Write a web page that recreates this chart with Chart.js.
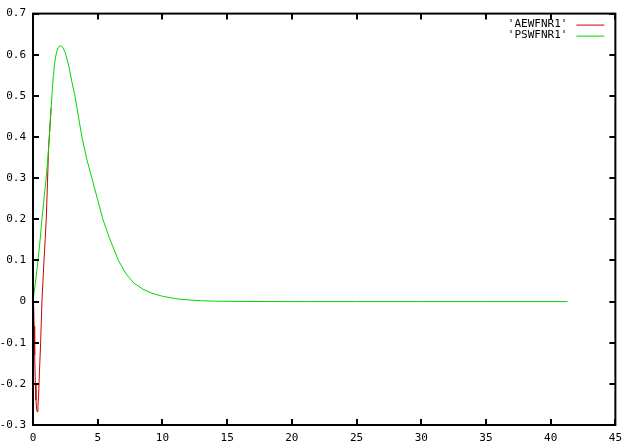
<!DOCTYPE html>
<html>
<head>
<meta charset="utf-8">
<script src="https://cdn.jsdelivr.net/npm/chart.js@4/dist/chart.umd.min.js"></script>
<style>
  html, body { margin: 0; padding: 0; background: #fff; }
  #wrap { width: 629px; height: 448px; }
</style>
</head>
<body>
<div id="wrap"><canvas id="c" width="629" height="448"></canvas></div>
<script>
// ---- data ----
const seriesNames = ["'AEWFNR1'", "'PSWFNR1'"];

// pseudo wavefunction (green)
const psX = [0, 0.2, 0.39, 0.55, 0.69, 0.85, 1.0, 1.1, 1.2, 1.3, 1.4, 1.48, 1.57, 1.66, 1.75, 1.85, 1.95, 2.05, 2.15, 2.3, 2.5, 2.8, 3.0, 3.24, 3.5, 3.78, 4.15, 4.55, 5.0, 5.4, 5.9, 6.6, 7.2, 7.8, 8.5, 9.2, 10.0, 11.0, 12.0, 13.0, 14.0, 16.0, 18.0, 21.0, 25.0, 30.0, 35.0, 41.3];
const psY = [0, 0.05, 0.1, 0.15, 0.2, 0.25, 0.295, 0.33, 0.37, 0.42, 0.47, 0.51, 0.548, 0.576, 0.596, 0.609, 0.617, 0.621, 0.622, 0.618, 0.605, 0.568, 0.535, 0.5, 0.452, 0.4, 0.347, 0.3, 0.247, 0.2, 0.155, 0.1, 0.067, 0.045, 0.03, 0.02, 0.013, 0.007, 0.004, 0.002, 0.001, 0.0003, 0.0001, 0, 0, 0, 0, 0];

// all-electron wavefunction (red): visible part; beyond it it lies under the green curve
const aeX = [0.05, 0.09, 0.13, 0.18, 0.23, 0.28, 0.33, 0.38, 0.43, 0.5, 0.59, 0.69, 0.77, 0.85, 0.94, 1.03, 1.12, 1.2, 1.3, 1.4];
const aeY = [-0.01, -0.06, -0.13, -0.2, -0.24, -0.262, -0.268, -0.255, -0.23, -0.17, -0.1, 0, 0.05, 0.1, 0.15, 0.205, 0.29, 0.37, 0.42, 0.47];

const xTicksMin = 0, xTicksMax = 45, xTickStep = 5;
const yTicksMin = -0.3, yTicksMax = 0.7, yTickStep = 0.1;

// ---- build datasets ----
const psData = psX.map((x, i) => ({ x: x, y: psY[i] }));
const aeData = aeX.map((x, i) => ({ x: x, y: aeY[i] }));

const FONT = { family: "'DejaVu Sans Mono', monospace", size: 11 };
const RED = 'rgb(205,0,0)';
const GREEN = 'rgb(0,215,0)';

const framePlugin = {
  id: 'frame',
  afterDraw(chart) {
    const ctx = chart.ctx, a = chart.chartArea;
    const xs = chart.scales.x, ys = chart.scales.y;
    ctx.save();
    ctx.strokeStyle = '#000';
    ctx.lineWidth = 2;
    ctx.strokeRect(a.left, a.top, a.right - a.left, a.bottom - a.top);
    const tl = 6;
    ctx.beginPath();
    xs.ticks.forEach(t => {
      const px = Math.round(xs.getPixelForValue(t.value));
      ctx.moveTo(px, a.bottom); ctx.lineTo(px, a.bottom - tl);
      ctx.moveTo(px, a.top); ctx.lineTo(px, a.top + tl);
    });
    ys.ticks.forEach(t => {
      const py = Math.round(ys.getPixelForValue(t.value));
      ctx.moveTo(a.left, py); ctx.lineTo(a.left + tl, py);
      ctx.moveTo(a.right, py); ctx.lineTo(a.right - tl, py);
    });
    ctx.stroke();

    // legend (top right, inside the plot)
    ctx.font = FONT.size + 'px ' + FONT.family;
    ctx.textAlign = 'right';
    ctx.textBaseline = 'middle';
    const textRight = a.right - 48;
    const lineL = a.right - 39, lineR = a.right - 11;
    chart.data.datasets.forEach((ds, i) => {
      const y = a.top + 11 + i * 11;
      ctx.fillStyle = '#000';
      ctx.fillText(ds.label, textRight, y);
      ctx.strokeStyle = ds.borderColor;
      ctx.lineWidth = 1;
      ctx.beginPath();
      ctx.moveTo(lineL, y + 0.5); ctx.lineTo(lineR, y + 0.5);
      ctx.stroke();
    });
    ctx.restore();
  }
};

new Chart(document.getElementById('c'), {
  type: 'line',
  data: {
    datasets: [
      { label: seriesNames[0], data: aeData, borderColor: RED, borderWidth: 1, pointRadius: 0, tension: 0, fill: false, order: 1 },
      { label: seriesNames[1], data: psData, borderColor: GREEN, borderWidth: 1, pointRadius: 0, tension: 0, fill: false, order: 0 }
    ]
  },
  options: {
    responsive: false,
    animation: false,
    parsing: false,
    layout: { padding: { top: 11, right: 13, left: 0, bottom: 0 } },
    plugins: { legend: { display: false }, tooltip: { enabled: false } },
    scales: {
      x: {
        type: 'linear', min: xTicksMin, max: xTicksMax,
        ticks: { stepSize: xTickStep, color: '#000', font: FONT, padding: 7, maxRotation: 0 },
        grid: { display: false, drawTicks: false },
        border: { display: false },
        afterFit(s) { s.height = 23; }
      },
      y: {
        type: 'linear', min: yTicksMin, max: yTicksMax,
        ticks: { stepSize: yTickStep, color: '#000', font: FONT, padding: 7,
          callback: v => String(Number(v.toFixed(1))) },
        grid: { display: false, drawTicks: false },
        border: { display: false },
        afterFit(s) { s.width = 33; }
      }
    }
  },
  plugins: [framePlugin]
});
</script>
</body>
</html>
